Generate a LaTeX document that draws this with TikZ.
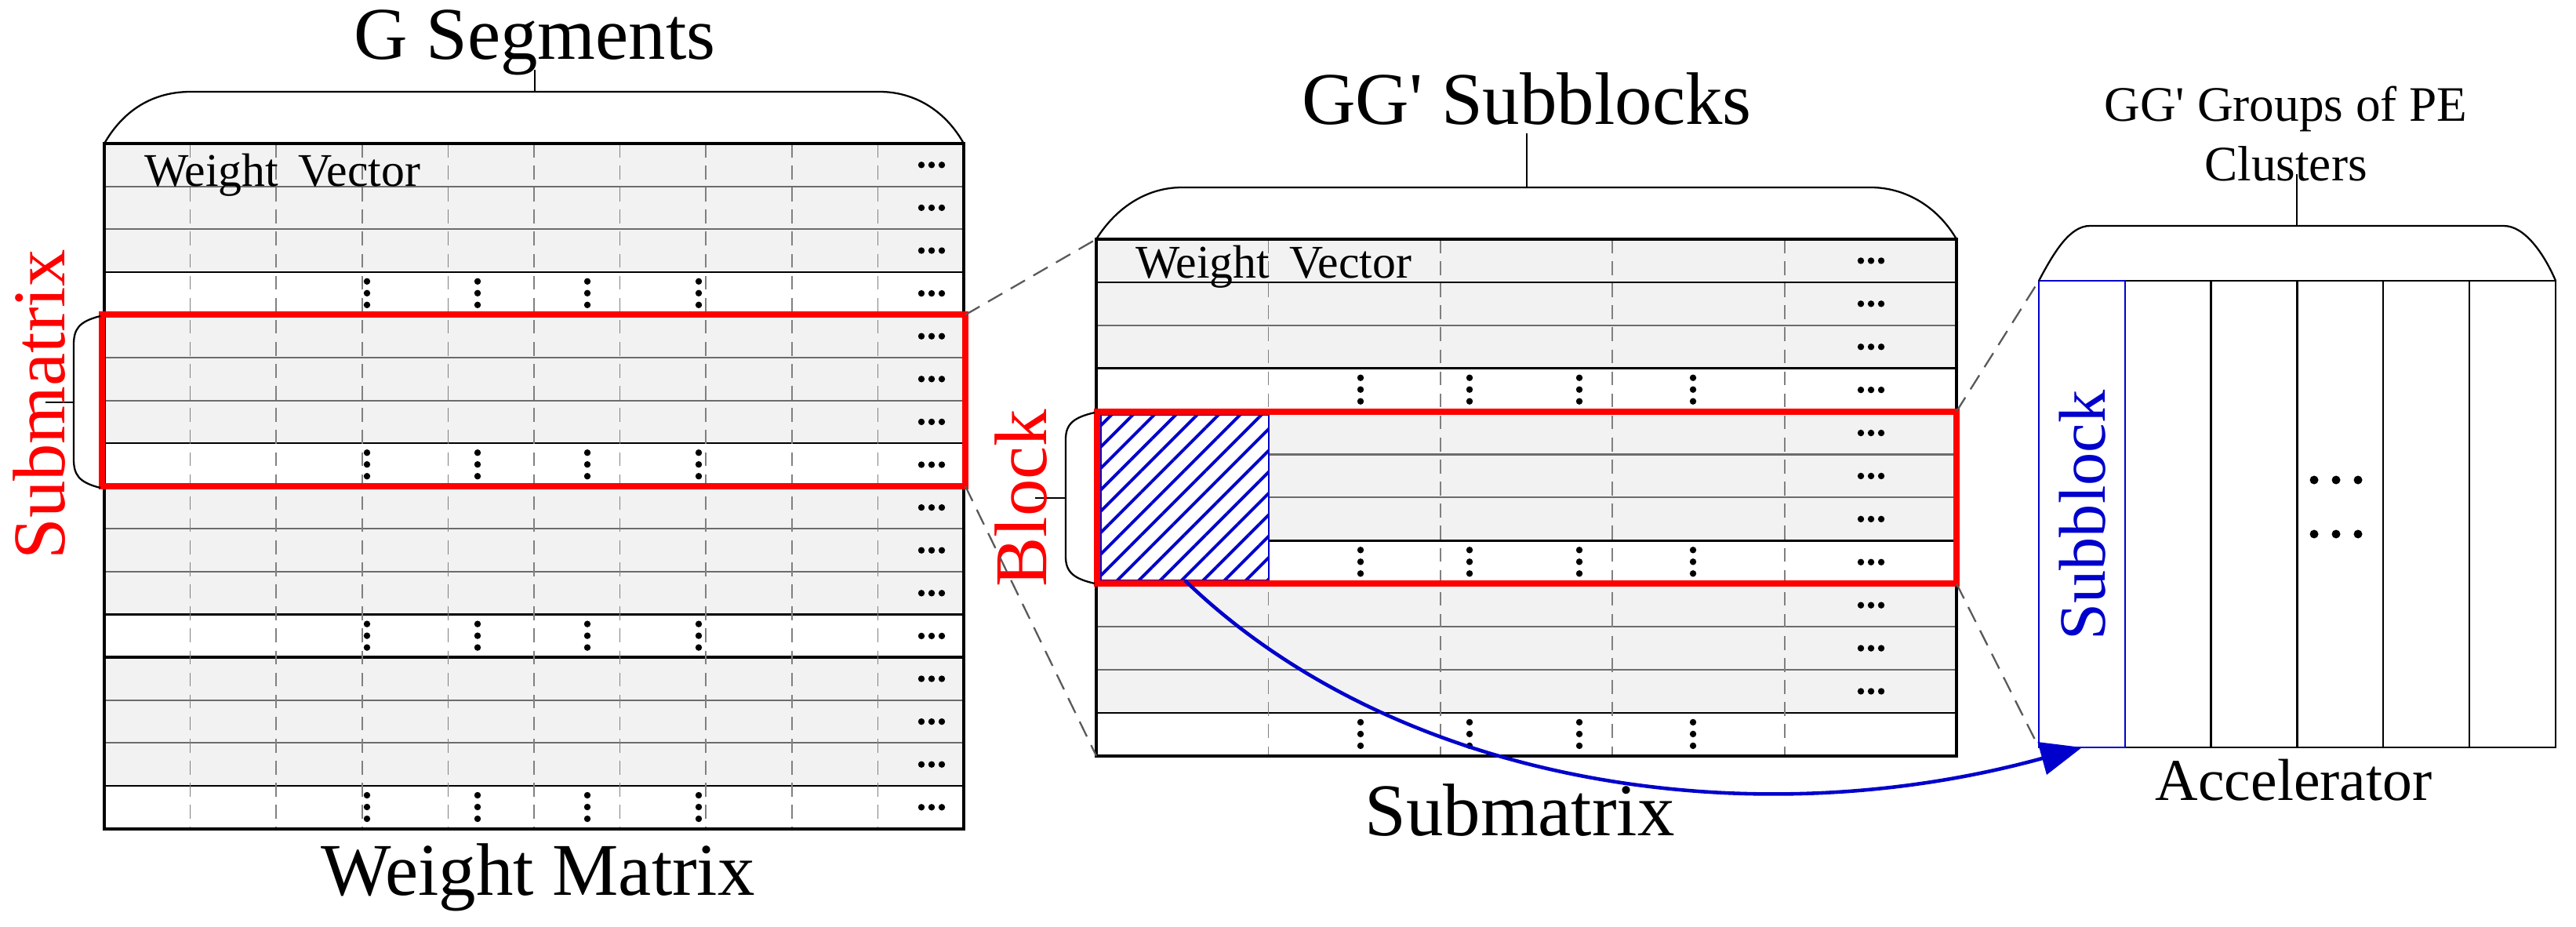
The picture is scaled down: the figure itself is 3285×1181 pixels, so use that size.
\documentclass[tikz,border=0pt]{standalone}
\usepackage{fontspec}
\setmainfont{Liberation Serif}
\usetikzlibrary{patterns.meta,arrows.meta}
\newcommand{\apos}{\textquotesingle}
\begin{document}
\begin{tikzpicture}[x=0.02cm,y=-0.02cm,
  frame/.style={line width=2.3pt},
  gline/.style={line width=1.2pt,gray!85!black},
  bline/.style={line width=1.4pt,black},
  dline/.style={line width=1pt,gray,dash pattern=on 10pt off 6pt},
  conn/.style={line width=1.3pt,gray!70!black,dash pattern=on 12pt off 7pt},
  redbox/.style={draw=red,line width=4.5pt},
  brace/.style={line width=1.3pt},
  dot/.style={fill=black,draw=none},
  big/.style={font=\fontsize{54}{60}\selectfont},
  redlab/.style={font=\fontsize{54}{60}\selectfont,text=red,rotate=90},
  wv/.style={font=\fontsize{34}{38}\selectfont,anchor=base west}]
\useasboundingbox (0,0) rectangle (3285,1181);
\fill[white] (0,0) rectangle (3285,1181);
% ---------------- Left matrix ----------------
\def\LL{133}\def\LR{1229}\def\LT{183}\def\LH{54.6}
\fill[gray!10] (\LL,\LT) rectangle (\LR,{\LT+16*\LH});
\foreach \i in {3,7,11,15}{\fill[white] (\LL,{\LT+\i*\LH}) rectangle (\LR,{\LT+(\i+1)*\LH});}
\foreach \i in {1,2,5,6,9,10,13,14}{\draw[gline] (\LL,{\LT+\i*\LH}) -- (\LR,{\LT+\i*\LH});}
\foreach \i in {3,4,7,8,11,15}{\draw[bline] (\LL,{\LT+\i*\LH}) -- (\LR,{\LT+\i*\LH});}
\draw[frame] (\LL,{\LT+12*\LH}) -- (\LR,{\LT+12*\LH});
\foreach \k in {1,...,9}{\draw[dline] ({\LL+\k*109.6},\LT) -- ({\LL+\k*109.6},{\LT+16*\LH});}
\draw[frame] (\LL,\LT) rectangle (\LR,{\LT+16*\LH});
\foreach \i in {0,...,15}{\foreach \dx in {-13,0,13}{\fill[dot] ({1188+\dx},{\LT+(\i+0.5)*\LH}) circle (4.2);}}
\foreach \i in {3,7,11,15}{\foreach \xx in {468,609,749,891}{\foreach \dy in {12,27,42}{\fill[dot] (\xx,{\LT+\i*\LH+\dy}) circle (4.2);}}}
\node[wv] (wv1) at (178,237) {Weight\, Vector};
\coordinate (lrTL) at (130,401.4); \coordinate (lrBR) at (1231,619.8);
\draw[redbox] (lrTL) rectangle (lrBR);
\coordinate (lrTR) at (1231,401.4);
\coordinate (lb1) at (\LL,\LT); \coordinate (lb2) at (\LR,\LT);
\draw[brace] (lb1) .. controls (160,136) and (200,117) .. (243,117) -- (1122,117) .. controls (1165,117) and (1205,140) .. (lb2);
\coordinate (ls) at (682,117); \coordinate (lst) at (682,89);
\draw[brace] (ls) -- (lst);
\node[big,anchor=base] (gseg) at (682,75) {G Segments};
\draw[brace] (128,403) .. controls (100,410) and (94,420) .. (94,440) -- (94,585) .. controls (94,605) and (100,615) .. (128,622);
\coordinate (sbs) at (94,513); \coordinate (sbe) at (58,513);
\draw[brace] (sbs) -- (sbe);
\node[redlab] (sublab) at (50,516) {Submatrix};
\node[big,anchor=base] (wm) at (686,1141) {Weight Matrix};
% ---------------- Middle matrix ----------------
\def\ML{1398}\def\MR{2495}\def\MT{305}\def\MH{54.9}
\fill[gray!10] (\ML,\MT) rectangle (\MR,{\MT+12*\MH});
\foreach \i in {3,7,11}{\fill[white] (\ML,{\MT+\i*\MH}) rectangle (\MR,{\MT+(\i+1)*\MH});}
\foreach \i in {2,5,6,9,10}{\draw[gline] (\ML,{\MT+\i*\MH}) -- (\MR,{\MT+\i*\MH});}
\foreach \i in {1,3,4,7,8,11}{\draw[bline] (\ML,{\MT+\i*\MH}) -- (\MR,{\MT+\i*\MH});}
\foreach \k in {1,...,4}{\draw[dline] ({\ML+\k*219.4},\MT) -- ({\ML+\k*219.4},{\MT+12*\MH});}
\draw[frame] (\ML,\MT) rectangle (\MR,{\MT+12*\MH});
\foreach \i in {0,...,10}{\foreach \dx in {-13,0,13}{\fill[dot] ({2386+\dx},{\MT+(\i+0.5)*\MH}) circle (4.2);}}
\foreach \i in {3,7,11}{\foreach \xx in {1735,1874,2014,2159}{\foreach \dy in {12,27,42}{\fill[dot] (\xx,{\MT+\i*\MH+\dy}) circle (4.2);}}}
\node[wv] (wv2) at (1442,354) {Weight\, Vector};
\coordinate (hb1) at (1404,529); \coordinate (hb2) at (1618,740);
\fill[white] (hb1) rectangle (hb2);
\fill[pattern={Lines[angle=45,distance=11pt,line width=2.2pt]},pattern color=blue!80!black] (hb1) rectangle (hb2);
\draw[blue!80!black,line width=1.3pt] (hb1) rectangle (hb2);
\coordinate (mrTL) at (1399,524.6); \coordinate (mrBR) at (2495,744.2);
\draw[redbox] (mrTL) rectangle (mrBR);
\coordinate (mrTR) at (2495,524.6); \coordinate (mrBL) at (1399,744.2);
\coordinate (mb1) at (\ML,\MT); \coordinate (mb2) at (\MR,\MT);
\coordinate (mbot) at (\ML,{\MT+12*\MH});
\draw[brace] (mb1) .. controls (1425,262) and (1465,239) .. (1507,239) -- (2386,239) .. controls (2428,239) and (2470,262) .. (mb2);
\coordinate (ms) at (1947,239); \coordinate (mst) at (1947,170);
\draw[brace] (ms) -- (mst);
\node[big,anchor=base] (ggsub) at (1947,158) {GG\apos{} Subblocks};
\draw[brace] (1396,526) .. controls (1370,532) and (1359,540) .. (1359,560) -- (1359,710) .. controls (1359,730) and (1370,738) .. (1396,744);
\coordinate (bbs) at (1359,635); \coordinate (bbe) at (1320,635);
\draw[brace] (bbs) -- (bbe);
\node[redlab] (blocklab) at (1302,635) {Block};
\node[big,anchor=base] (subm2) at (1938,1065) {Submatrix};
\draw[conn] (lrTR) -- (mb1);
\draw[conn] (lrBR) -- (mbot);
% ---------------- Right accelerator ----------------
\def\AL{2600}\def\AR{3259}\def\AT{358}\def\AB{953}
\foreach \k in {2,...,5}{\draw[bline] ({\AL+\k*109.8},\AT) -- ({\AL+\k*109.8},\AB);}
\draw[bline] (\AL,\AT) rectangle (\AR,\AB);
\draw[blue!80!black,line width=1.4pt] (\AL,\AT) rectangle ({\AL+109.8},\AB);
\coordinate (ab1) at (\AL,\AT); \coordinate (ab2) at (\AR,\AT); \coordinate (abl) at (\AL,\AB);
\draw[brace] (ab1) .. controls (2620,320) and (2640,288) .. (2665,288) -- (3193,288) .. controls (3220,288) and (3245,325) .. (ab2);
\coordinate (as) at (2929,288); \coordinate (ast) at (2929,222);
\draw[brace] (as) -- (ast);
\node[font=\fontsize{36}{40}\selectfont,anchor=base] (gg1) at (2915,154) {GG\apos{} Groups of PE};
\node[font=\fontsize{36}{40}\selectfont,anchor=base] (gg2) at (2915,230) {Clusters};
\foreach \yy in {612,681}{\foreach \dx in {-28,0,28}{\fill[dot] ({2979+\dx},\yy) circle (5.5);}}
\node[font=\fontsize{48}{54}\selectfont,text=blue!80!black,rotate=90] (sblab) at (2656,657) {Subblock};
\node[font=\fontsize{43}{48}\selectfont,anchor=base] (accl) at (2925,1020) {Accelerator};
\draw[conn] (mrTR) -- (ab1);
\draw[conn] (mrBR) -- (abl);
\coordinate (arS) at (1511,740); \coordinate (arE) at (2655,953);
\draw[blue!80!black,line width=2.6pt,-{Triangle[length=30pt,width=24pt]}] (arS) .. controls (1780,1000) and (2230,1070) .. (arE);
\end{tikzpicture}
\end{document}
